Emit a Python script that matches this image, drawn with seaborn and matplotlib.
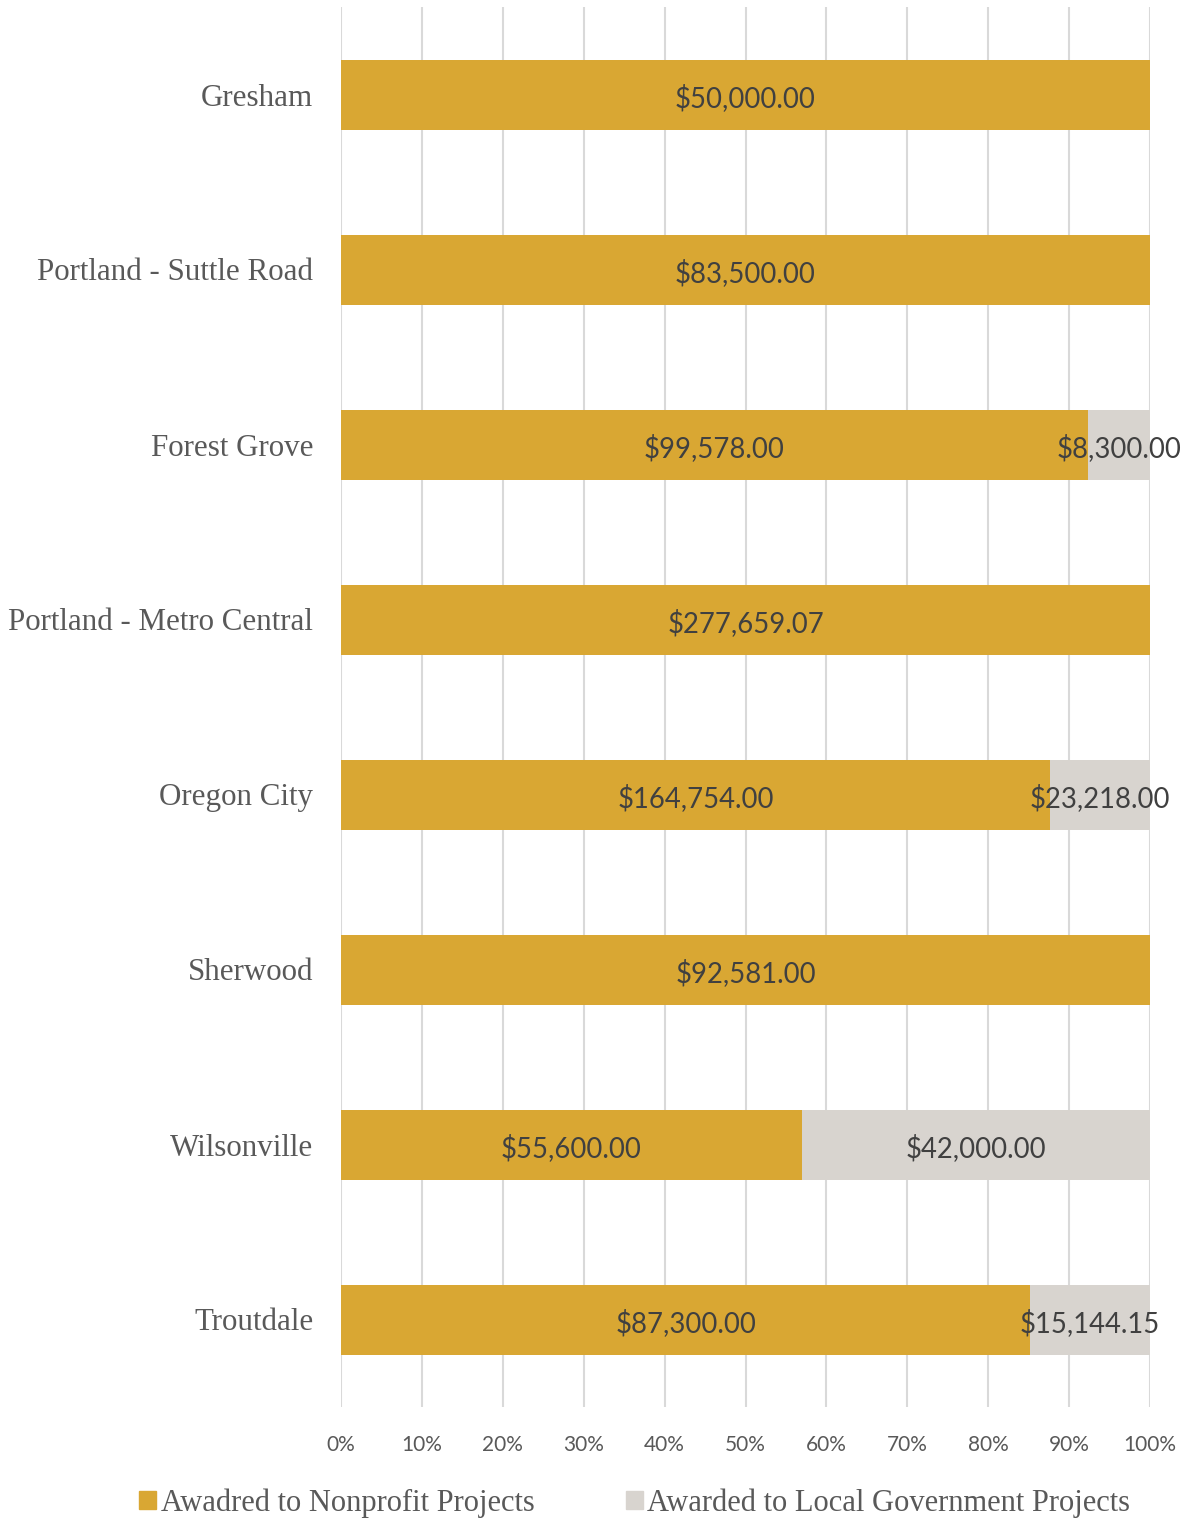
import matplotlib
matplotlib.use("Agg")
import matplotlib.pyplot as plt
import matplotlib.patches as mpatches
import seaborn as sns
import pandas as pd

sites = ['Gresham', 'Portland - Suttle Road', 'Forest Grove', 'Portland - Metro Central',
         'Oregon City', 'Sherwood', 'Wilsonville', 'Troutdale']
nonprofit = [50000.00, 83500.00, 99578.00, 277659.07, 164754.00, 92581.00, 55600.00, 87300.00]
local_gov = [0, 0, 8300.00, 0, 23218.00, 0, 42000.00, 15144.15]
xticks = [0, 10, 20, 30, 40, 50, 60, 70, 80, 90, 100]

gold = '#D9A733'
grey = '#D8D4CF'

df = pd.DataFrame({'site': sites, 'nonprofit': nonprofit, 'local': local_gov})
df['total'] = df['nonprofit'] + df['local']
df['np_pct'] = df['nonprofit'] / df['total'] * 100
df['all_pct'] = 100.0

sns.set_style('white')
serif = ['Liberation Serif', 'DejaVu Serif']
sans = ['Lato', 'DejaVu Sans']

fig = plt.figure(figsize=(11.82, 15.2), dpi=100)
ax = fig.add_axes([341/1182, 1 - 1407/1520, (1150 - 341)/1182, 1400/1520])

sns.barplot(data=df, y='site', x='all_pct', color=grey, width=0.4, ax=ax,
            orient='h', saturation=1, linewidth=0, zorder=2)
sns.barplot(data=df, y='site', x='np_pct', color=gold, width=0.4, ax=ax,
            orient='h', saturation=1, linewidth=0, zorder=3)

# value labels centred in each segment
for i, row in df.iterrows():
    ax.text(row['np_pct'] / 2, i + 0.02, '${:,.2f}'.format(row['nonprofit']),
            ha='center', va='center', fontsize=19.8, color='#404040', family=sans, zorder=5)
    if row['local'] > 0:
        ax.text((row['np_pct'] + 100) / 2, i + 0.02, '${:,.2f}'.format(row['local']),
                ha='center', va='center', fontsize=19.8, color='#404040', family=sans, zorder=5)

ax.set_xlim(0, 100)
ax.set_ylim(7.5, -0.5)
ax.set_xticks(xticks)
ax.set_xticklabels([f'{t}%' for t in xticks], fontsize=15, color='#595959', family=sans)
ax.set_yticks(range(len(sites)))
ax.set_yticklabels(sites, fontsize=22.3, color='#595959', family=serif)
ax.tick_params(axis='x', length=0, pad=20)
ax.tick_params(axis='y', length=0, pad=20)
ax.set_xlabel('')
ax.set_ylabel('')
ax.xaxis.grid(True, color='#D9D9D9', linewidth=1.5, zorder=0)
ax.yaxis.grid(False)
ax.set_axisbelow(True)
for s in ax.spines.values():
    s.set_visible(False)

handles = [mpatches.Patch(color=gold, label='Awadred to Nonprofit Projects'),
           mpatches.Patch(color=grey, label='Awarded to Local Government Projects')]
fig.legend(handles=handles, loc='center', bbox_to_anchor=(0.537, 1 - 1503/1520), ncol=2,
           frameon=False, prop={'family': serif, 'size': 22}, labelcolor='#595959',
           handlelength=0.55, handleheight=0.55, handletextpad=0.15, columnspacing=3.0)

fig.savefig('out.png', dpi=100)
